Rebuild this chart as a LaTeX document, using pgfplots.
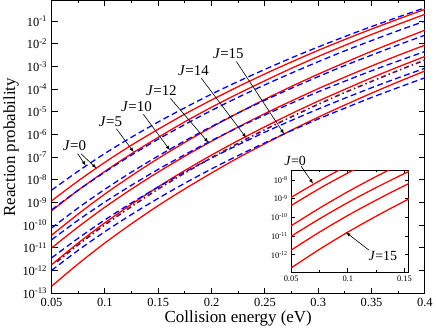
\documentclass[border=0pt]{standalone}
\usepackage{fontspec}
\setmainfont{Liberation Serif}
\usepackage{pgfplots}
\usepackage{pgfplotstable}
\pgfplotsset{compat=1.18}
\definecolor{pred}{rgb}{1,0,0}
\definecolor{pblue}{rgb}{0,0,1}
\definecolor{pmaroon}{rgb}{0.40,0.06,0.30}

% log10 of the reaction probability, red = solid, blue = dashed
\pgfplotstableread{
x     r0    b0    r5    b5    r10    b10    r12    b12    r14    b14    r15    b15
0.050 -8.93 -8.46 -9.37 -9.33 -10.45 -10.13 -11.01 -10.65 -11.75 -11.45 -12.70 -12.00
0.075 -8.05 -7.62 -8.46 -8.46 -9.51  -9.24  -10.08 -9.78  -10.79 -10.58 -11.71 -11.11
0.100 -7.23 -6.84 -7.63 -7.66 -8.63  -8.42  -9.21  -8.98  -9.90  -9.77  -10.79 -10.29
0.125 -6.47 -6.12 -6.85 -6.91 -7.82  -7.66  -8.41  -8.24  -9.08  -9.02  -9.94  -9.53
0.150 -5.77 -5.45 -6.13 -6.21 -7.06  -6.95  -7.66  -7.54  -8.31  -8.32  -9.14  -8.82
0.175 -5.10 -4.82 -5.44 -5.56 -6.35  -6.28  -6.96  -6.89  -7.59  -7.66  -8.40  -8.15
0.200 -4.48 -4.22 -4.80 -4.94 -5.68  -5.65  -6.30  -6.27  -6.91  -7.04  -7.70  -7.52
0.225 -3.89 -3.66 -4.20 -4.36 -5.05  -5.05  -5.67  -5.69  -6.27  -6.46  -7.03  -6.93
0.250 -3.33 -3.13 -3.63 -3.81 -4.45  -4.49  -5.08  -5.14  -5.66  -5.90  -6.41  -6.37
0.275 -2.80 -2.62 -3.08 -3.29 -3.88  -3.96  -4.52  -4.62  -5.08  -5.38  -5.81  -5.83
0.300 -2.29 -2.14 -2.56 -2.79 -3.34  -3.45  -3.98  -4.12  -4.53  -4.88  -5.24  -5.32
0.325 -1.81 -1.68 -2.07 -2.31 -2.83  -2.96  -3.47  -3.65  -4.01  -4.40  -4.70  -4.84
0.350 -1.35 -1.24 -1.59 -1.86 -2.33  -2.50  -2.98  -3.19  -3.50  -3.94  -4.18  -4.37
0.375 -0.91 -0.82 -1.14 -1.42 -1.86  -2.05  -2.51  -2.76  -3.02  -3.50  -3.68  -3.93
0.400 -0.48 -0.41 -0.70 -1.00 -1.40  -1.62  -2.06  -2.34  -2.56  -3.08  -3.20  -3.50
}\curves

\pgfplotstableread{
x     p
0.055 -11.62
0.075 -10.87
0.100 -9.99
0.125 -9.18
0.150 -8.41
0.175 -7.70
0.200 -7.03
0.225 -6.39
0.250 -5.79
0.275 -5.22
0.300 -4.67
0.325 -4.15
0.350 -3.66
0.375 -3.18
0.400 -2.72
}\dashdotcurve

\pgfplotsset{
  redline/.style={pred, line width=1.3bp, smooth},
  blueline/.style={pblue, line width=1.3bp, smooth, dash pattern=on 6bp off 3.5bp},
}

\begin{document}
\begin{tikzpicture}
\begin{axis}[
    name=main,
    at={(0,0)}, anchor=south west,
    width=374bp, height=294bp, scale only axis,
    xmin=0.05, xmax=0.4,
    ymin=-13.04, ymax=-0.09,
    axis line style={line width=1bp},
    every tick/.style={black, line width=0.9bp},
    major tick length=6bp, minor tick length=3bp,
    xtick={0.05,0.1,0.15,0.2,0.25,0.3,0.35,0.4},
    xticklabels={0.05,0.1,0.15,0.2,0.25,0.3,0.35,0.4},
    minor x tick num=1,
    ytick={-13,-12,-11,-10,-9,-8,-7,-6,-5,-4,-3,-2,-1},
    yticklabels={10\textsuperscript{-13},10\textsuperscript{-12},10\textsuperscript{-11},10\textsuperscript{-10},10\textsuperscript{-9},10\textsuperscript{-8},10\textsuperscript{-7},10\textsuperscript{-6},10\textsuperscript{-5},10\textsuperscript{-4},10\textsuperscript{-3},10\textsuperscript{-2},10\textsuperscript{-1}},
    tick label style={font=\fontsize{12.5}{14}\selectfont},
    xticklabel style={yshift=-1bp},
    yticklabel style={xshift=-1bp},
    xlabel={Collision energy (eV)},
    ylabel={Reaction probability},
    label style={font=\fontsize{17}{19}\selectfont},
    xlabel style={yshift=3bp},
    ylabel style={yshift=-3bp},
    clip mode=individual,
]
\addplot[redline]  table[x=x,y=r0]{\curves};
\addplot[blueline] table[x=x,y=b0]{\curves};
\addplot[redline]  table[x=x,y=r5]{\curves};
\addplot[blueline] table[x=x,y=b5]{\curves};
\addplot[redline]  table[x=x,y=r10]{\curves};
\addplot[blueline] table[x=x,y=b10]{\curves};
\addplot[redline]  table[x=x,y=r12]{\curves};
\addplot[blueline] table[x=x,y=b12]{\curves};
\addplot[redline]  table[x=x,y=r14]{\curves};
\addplot[blueline] table[x=x,y=b14]{\curves};
\addplot[redline]  table[x=x,y=r15]{\curves};
\addplot[blueline] table[x=x,y=b15]{\curves};
\addplot[pmaroon, line width=1.6bp, smooth, dash pattern=on 5bp off 3bp on 1.5bp off 3bp] table[x=x,y=p]{\dashdotcurve};

\begin{scope}[font=\fontsize{15}{17}\selectfont]
\node at (axis cs:0.0715,-6.48) {\textit{J}=0};
\draw[-latex, line width=0.6bp] (axis cs:0.0745,-6.85) -- (axis cs:0.082,-7.38);
\draw[-latex, line width=0.6bp] (axis cs:0.0775,-6.85) -- (axis cs:0.092,-7.49);
\node at (axis cs:0.1052,-5.42) {\textit{J}=5};
\draw[-latex, line width=0.6bp] (axis cs:0.1108,-5.75) -- (axis cs:0.127,-6.78);
\node at (axis cs:0.1296,-4.76) {\textit{J}=10};
\draw[-latex, line width=0.6bp] (axis cs:0.136,-5.11) -- (axis cs:0.161,-6.70);
\node at (axis cs:0.153,-4.05) {\textit{J}=12};
\draw[-latex, line width=0.6bp] (axis cs:0.1614,-4.41) -- (axis cs:0.197,-6.36);
\node at (axis cs:0.183,-3.17) {\textit{J}=14};
\draw[-latex, line width=0.6bp] (axis cs:0.1904,-3.52) -- (axis cs:0.2325,-6.15);
\node at (axis cs:0.2157,-2.42) {\textit{J}=15};
\draw[-latex, line width=0.6bp] (axis cs:0.2232,-2.78) -- (axis cs:0.268,-5.98);
\end{scope}
\end{axis}

\begin{axis}[
    name=inset,
    at={(240bp,22bp)}, anchor=south west,
    width=118bp, height=102bp, scale only axis,
    axis background/.style={fill=white},
    xmin=0.05, xmax=0.154,
    ymin=-12.92, ymax=-7.48,
    axis line style={line width=1bp},
    every tick/.style={black, line width=0.8bp},
    major tick length=4bp, minor tick length=2bp,
    xtick={0.05,0.1,0.15},
    xticklabels={0.05,0.1,0.15},
    minor x tick num=1,
    ytick={-12,-11,-10,-9,-8},
    yticklabels={10\textsuperscript{-12},10\textsuperscript{-11},10\textsuperscript{-10},10\textsuperscript{-9},10\textsuperscript{-8}},
    tick label style={font=\fontsize{8.5}{10}\selectfont},
    clip mode=individual,
]
\addplot[redline] table[x=x,y=r0]{\curves};
\addplot[redline] table[x=x,y=r5]{\curves};
\addplot[redline] table[x=x,y=r10]{\curves};
\addplot[redline] table[x=x,y=r12]{\curves};
\addplot[redline] table[x=x,y=r14]{\curves};
\addplot[redline] table[x=x,y=r15]{\curves};
\begin{scope}[font=\fontsize{14}{16}\selectfont]
\node at (axis cs:0.0535,-7.0) {\textit{J}=0};
\draw[-latex, line width=0.6bp] (axis cs:0.0588,-7.27) -- (axis cs:0.0694,-8.2);
\node at (axis cs:0.131,-12.07) {\textit{J}=15};
\draw[-latex, line width=0.6bp] (axis cs:0.1187,-11.75) -- (axis cs:0.0984,-10.8);
\end{scope}
\end{axis}
\end{tikzpicture}
\end{document}
